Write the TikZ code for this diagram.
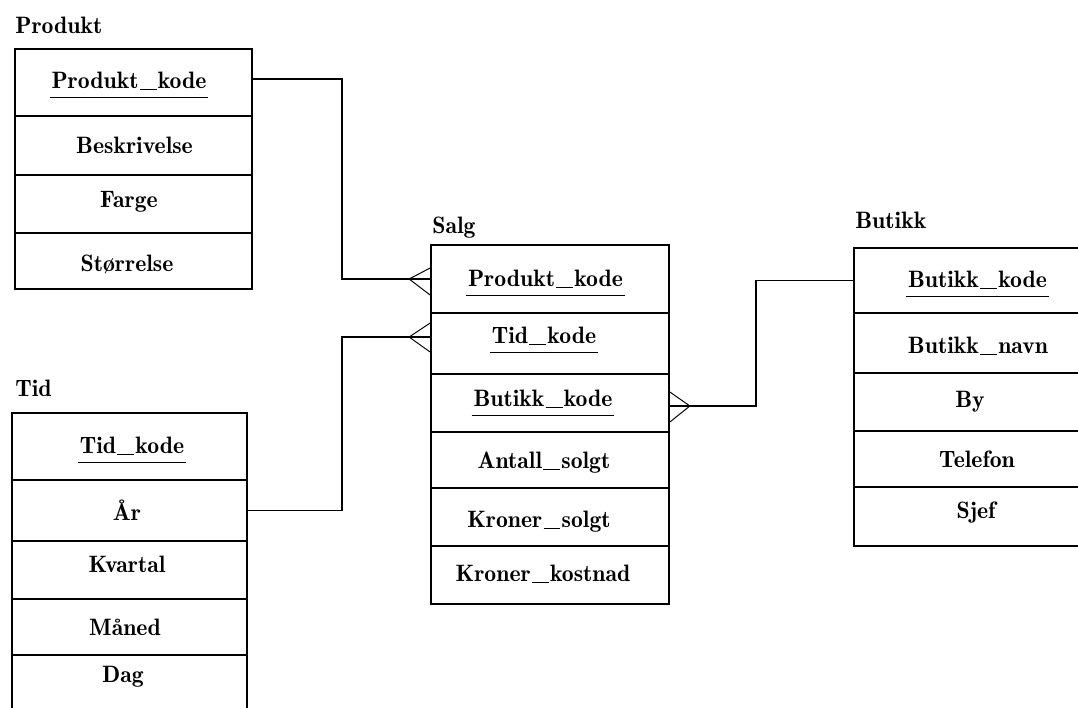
\documentclass[tikz,border=0pt]{standalone}
\usepackage{fontspec}
\newfontfamily\demifont{lmromandemi10-regular}[Extension=.otf]
\usetikzlibrary{fit}
% wide underscore used inside attribute names
\newcommand{\us}{\kern0.7pt\rule[-1.0pt]{9.6pt}{0.7pt}\kern0.7pt}
\tikzset{
  rowbox/.style={draw, line width=1pt, inner sep=0pt},
  txt/.style={inner sep=0pt, anchor=base, font=\demifont\fontsize{13.5}{16}\selectfont},
  title/.style={inner sep=0pt, anchor=base west, font=\demifont\fontsize{13.5}{16}\selectfont},
  link/.style={draw, line width=0.9pt},
  prong/.style={draw, line width=0.55pt},
  keyline/.style={draw, line width=1pt},
}
\begin{document}
\begin{tikzpicture}[x={(0.02cm,0)}, y={(0,-0.02cm)}]
\clip (0,0) rectangle (1078,707);
\fill[white] (0,0) rectangle (1078,707);

% ---------- Produkt ----------
\node[title] (tP) at (15,33) {Produkt};
\node[rowbox, fit={(15,49) (252,116)}] (p1) {};
\node[rowbox, fit={(15,116) (252,175)}] (p2) {};
\node[rowbox, fit={(15,175) (252,233)}] (p3) {};
\node[rowbox, fit={(15,233) (252,289)}] (p4) {};
\node[txt] (p1t) at (129,88) {Produkt\us kode};
\node[txt] (p2t) at (134.5,153) {Beskrivelse};
\node[txt] (p3t) at (129,207) {Farge};
\node[txt] (p4t) at (127,271) {Størrelse};

% ---------- Salg ----------
\node[title] (tS) at (432,233) {Salg};
\node[rowbox, fit={(431,245) (669,313)}] (s1) {};
\node[rowbox, fit={(431,313) (669,374)}] (s2) {};
\node[rowbox, fit={(431,374) (669,432)}] (s3) {};
\node[rowbox, fit={(431,432) (669,488)}] (s4) {};
\node[rowbox, fit={(431,488) (669,546)}] (s5) {};
\node[rowbox, fit={(431,546) (669,604)}] (s6) {};
\node[txt] (s1t) at (545.5,286) {Produkt\us kode};
\node[txt] (s2t) at (544,343) {Tid\us kode};
\node[txt] (s3t) at (543,406) {Butikk\us kode};
\node[txt] (s4t) at (544,468) {Antall\us solgt};
\node[txt] (s5t) at (539,527) {Kroner\us solgt};
\node[txt] (s6t) at (543,581) {Kroner\us kostnad};

% ---------- Butikk ----------
\node[title] (tB) at (855,228) {Butikk};
\node[rowbox, fit={(854,248) (1100,313)}] (b1) {};
\node[rowbox, fit={(854,313) (1100,373)}] (b2) {};
\node[rowbox, fit={(854,373) (1100,431)}] (b3) {};
\node[rowbox, fit={(854,431) (1100,487)}] (b4) {};
\node[rowbox, fit={(854,487) (1100,546)}] (b5) {};
\node[txt] (b1t) at (977.5,287) {Butikk\us kode};
\node[txt] (b2t) at (978,353) {Butikk\us navn};
\node[txt] (b3t) at (970,407) {By};
\node[txt] (b4t) at (977,467) {Telefon};
\node[txt] (b5t) at (976,518) {Sjef};

% ---------- Tid ----------
\node[title] (tT) at (15,396) {Tid};
\node[rowbox, fit={(12,413) (247,480)}] (t1) {};
\node[rowbox, fit={(12,480) (247,541)}] (t2) {};
\node[rowbox, fit={(12,541) (247,599)}] (t3) {};
\node[rowbox, fit={(12,599) (247,655)}] (t4) {};
\node[rowbox, fit={(12,655) (247,720)}] (t5) {};
\node[txt] (t1t) at (132,453) {Tid\us kode};
\node[txt] (t2t) at (127,520) {År};
\node[txt] (t3t) at (127,572) {Kvartal};
\node[txt] (t4t) at (125,635) {Måned};
\node[txt] (t5t) at (123,682) {Dag};

% ---------- key underlines ----------
\foreach \k in {p1t,s1t,s2t,s3t,b1t,t1t}{
  \draw[keyline] ([shift={(-1.5,9.5)}]\k.base west) -- ([shift={(1.5,9.5)}]\k.base east);
}

% ---------- connector end points ----------
\coordinate (pOut) at ([yshift=0.07cm]p1.east);
\coordinate (sInP) at (s1.west);
\coordinate (sInT) at ([yshift=0.13cm]s2.west);
\coordinate (sOutB) at ([yshift=-0.06cm]s3.east);
\coordinate (tOut) at (t2.east);
\coordinate (bIn) at (b1.west);

% ---------- connectors ----------
\draw[link] (pOut) -| ([xshift=-1.76cm]sInP) -- (sInP);
\draw[link] (tOut) -| ([xshift=-1.76cm]sInT) -- (sInT);
\draw[link] (sOutB) -| ([xshift=-1.94cm]bIn) -- (bIn);

% ---------- crow's feet (many side) ----------
\draw[prong] ([shift={(0,-11)}]sInP) -- ([xshift=-0.42cm]sInP) -- ([shift={(0,16)}]sInP);
\draw[prong] ([shift={(0,-14)}]sInT) -- ([xshift=-0.42cm]sInT) -- ([shift={(0,15)}]sInT);
\draw[prong] ([shift={(0,-14)}]sOutB) -- ([xshift=0.40cm]sOutB) -- ([shift={(0,16)}]sOutB);
\end{tikzpicture}
\end{document}
